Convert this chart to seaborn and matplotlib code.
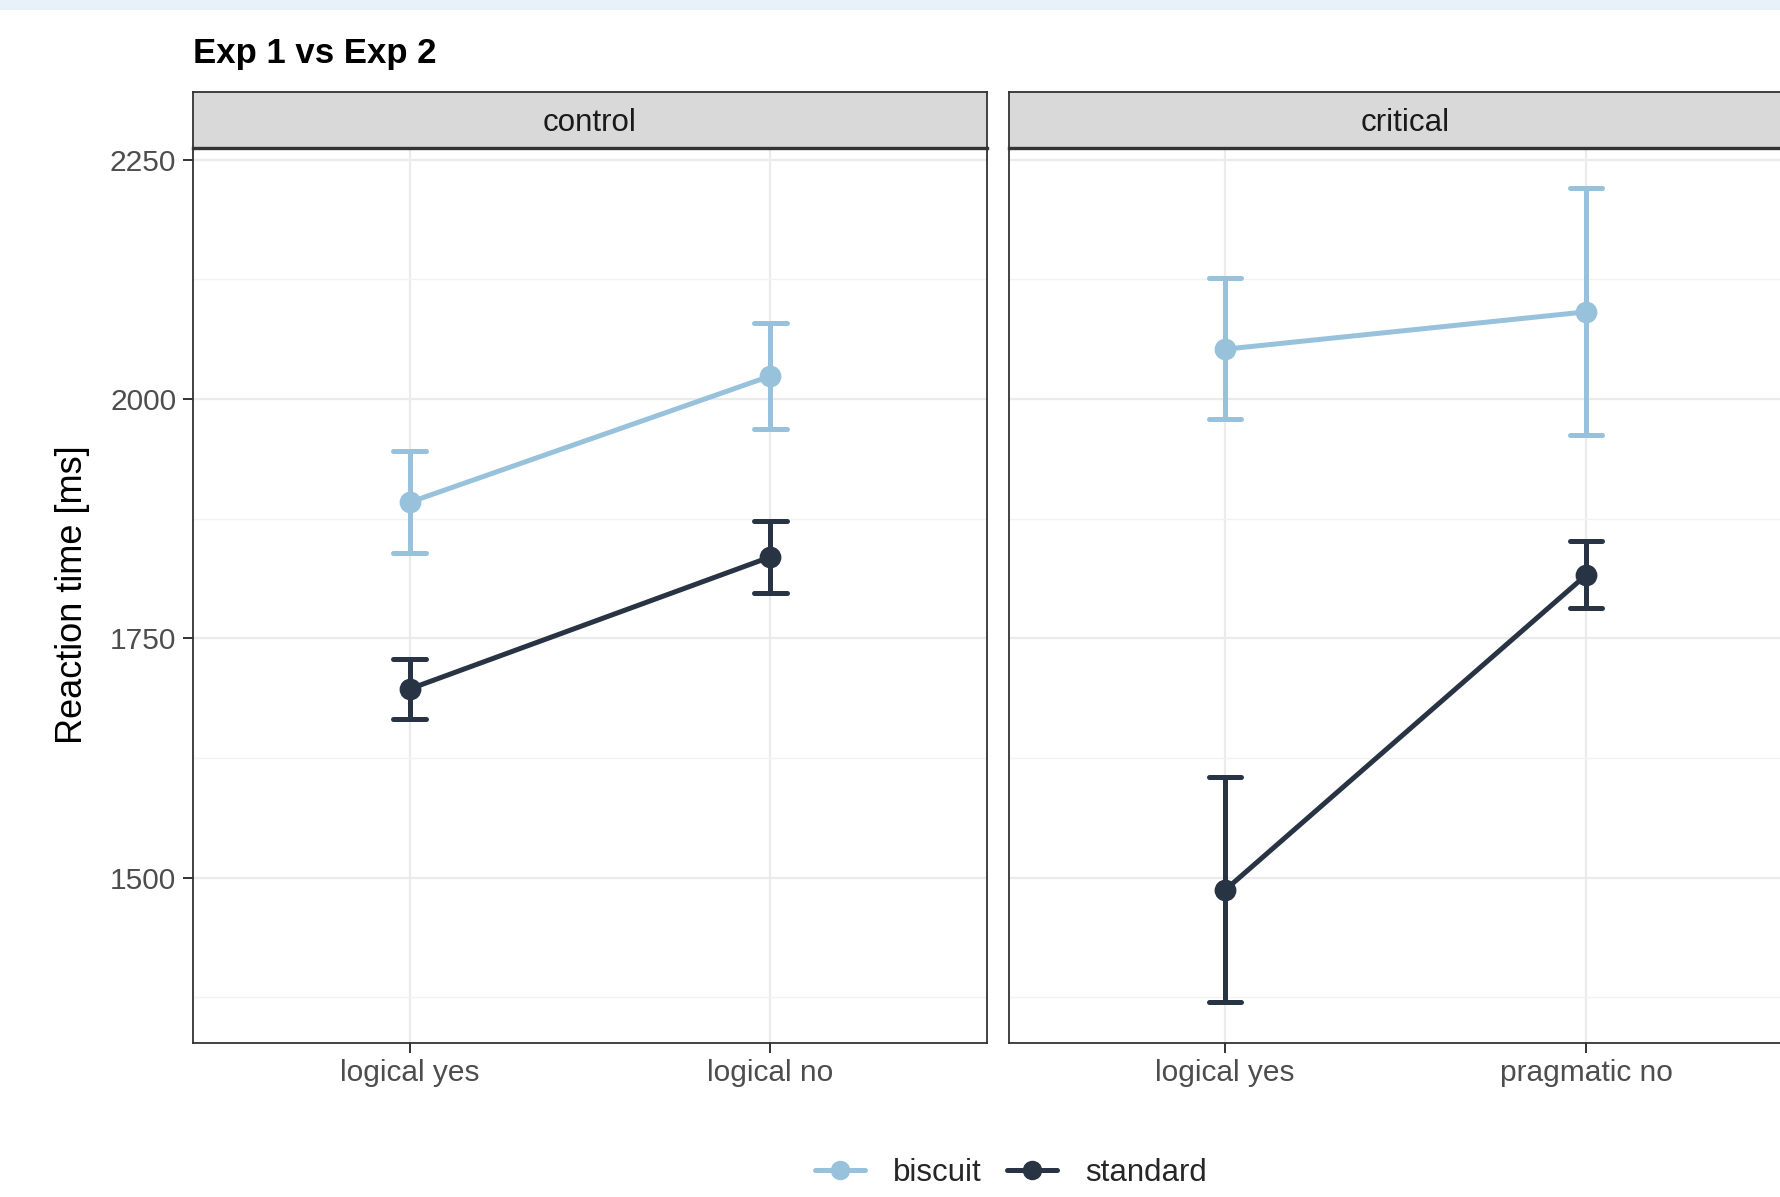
import matplotlib
matplotlib.use("Agg")
import matplotlib.pyplot as plt
import seaborn as sns
import pandas as pd
import numpy as np
from matplotlib.lines import Line2D
from matplotlib.ticker import MultipleLocator, FixedLocator
from matplotlib.patches import Rectangle

# ---------------- data ----------------
title = "Exp 1 vs Exp 2"
panels = ["control", "critical"]
panel_categories = {
    "control": ["logical yes", "logical no"],
    "critical": ["logical yes", "pragmatic no"],
}
groups = ["biscuit", "standard"]
# order: control-logical yes, control-logical no, critical-logical yes, critical-pragmatic no
biscuit_mean = [1892, 2024, 2052, 2091]
biscuit_lo = [1839, 1969, 1979, 1962]
biscuit_hi = [1946, 2079, 2126, 2220]
standard_mean = [1697, 1835, 1487, 1816]
standard_lo = [1666, 1797, 1370, 1782]
standard_hi = [1728, 1873, 1605, 1852]
y_ticks = [1500, 1750, 2000, 2250]
y_label = "Reaction time [ms]"

colors = {"biscuit": "#98C2DB", "standard": "#283444"}

# build long table: three rows per point (lo, mean, hi); median -> mean, min/max -> error bar
rows = []
cells = [(p, c) for p in panels for c in panel_categories[p]]
for g, m, lo, hi in [("biscuit", biscuit_mean, biscuit_lo, biscuit_hi),
                     ("standard", standard_mean, standard_lo, standard_hi)]:
    for (p, c), mv, lv, hv in zip(cells, m, lo, hi):
        for v in (lv, mv, hv):
            rows.append({"panel": p, "response": c, "group": g, "rt": v})
df = pd.DataFrame(rows)

# ---------------- figure ----------------
sns.set_theme(style="white")
plt.rcParams["font.family"] = ["Liberation Sans", "DejaVu Sans"]

W, H = 1781, 1197
fig = plt.figure(figsize=(W / 100, H / 100), dpi=100)

# light band at the very top
fig.add_artist(Rectangle((0, 1 - 10 / H), 1, 10 / H, transform=fig.transFigure,
                         facecolor="#E8F0F9", edgecolor="none", zorder=0))

ax_bottom = 1042.7
ax_top = 147.7
strip_top = 92.0
lefts = [193.0, 1008.6]
width = 794.0

ylim = (1327.5, 2262.5)
border = "#333333"

for i, p in enumerate(panels):
    x0 = lefts[i]
    ax = fig.add_axes([x0 / W, 1 - ax_bottom / H, width / W, (ax_bottom - ax_top) / H])
    sub = df[df["panel"] == p]
    sns.pointplot(
        data=sub, x="response", y="rt", hue="group",
        order=panel_categories[p], hue_order=groups, palette=colors,
        estimator="median", errorbar=lambda v: (v.min(), v.max()),
        capsize=0.09, dodge=False, markers="o", markersize=13,
        linewidth=3.6, err_kws={"linewidth": 3.6}, legend=False, ax=ax,
    )
    ax.set_xlim(-0.6, 1.6)
    ax.set_ylim(*ylim)
    ax.yaxis.set_major_locator(FixedLocator(y_ticks))
    ax.yaxis.set_minor_locator(MultipleLocator(125))
    ax.grid(True, which="major", color="#EBEBEB", linewidth=1.6, zorder=0)
    ax.grid(True, which="minor", axis="y", color="#F2F2F2", linewidth=1.0, zorder=0)
    ax.set_axisbelow(True)
    ax.set_xlabel("")
    ax.set_ylabel("")
    for s in ax.spines.values():
        s.set_color(border)
        s.set_linewidth(1.3)
    ax.tick_params(axis="both", which="major", length=7, width=1.4, color=border,
                   labelsize=21.5, labelcolor="#4D4D4D", pad=5, direction="out")
    ax.tick_params(which="minor", length=0)
    ax.tick_params(axis="x", bottom=True)
    ax.tick_params(axis="y", left=(i == 0), labelleft=(i == 0))

    # strip
    sax = fig.add_axes([x0 / W, 1 - ax_top / H, width / W, (ax_top - strip_top) / H])
    sax.set_facecolor("#D9D9D9")
    sax.set_xticks([])
    sax.set_yticks([])
    for s in sax.spines.values():
        s.set_color(border)
        s.set_linewidth(1.3)
    sax.spines["bottom"].set_linewidth(2.4)
    sax.text(0.5, 0.45, p, ha="center", va="center", fontsize=22.5, color="#1A1A1A",
             transform=sax.transAxes)

# title and y label
fig.text(193 / W, 1 - 53 / H, title, ha="left", va="center", fontsize=25,
         fontweight="bold", color="black")
fig.text(73 / W, 1 - 595 / H, y_label, rotation=90, ha="center", va="center",
         fontsize=26, color="black")

# legend
handles = [Line2D([0], [0], color=colors[g], marker="o", markersize=13, linewidth=3.6)
           for g in groups]
fig.legend(handles, groups, loc="center", bbox_to_anchor=(1011 / W, 1 - 1173 / H),
           ncol=2, frameon=False, fontsize=22.5, handlelength=1.6, handletextpad=0.9,
           columnspacing=0.8)

fig.savefig("out.png", dpi=100)
